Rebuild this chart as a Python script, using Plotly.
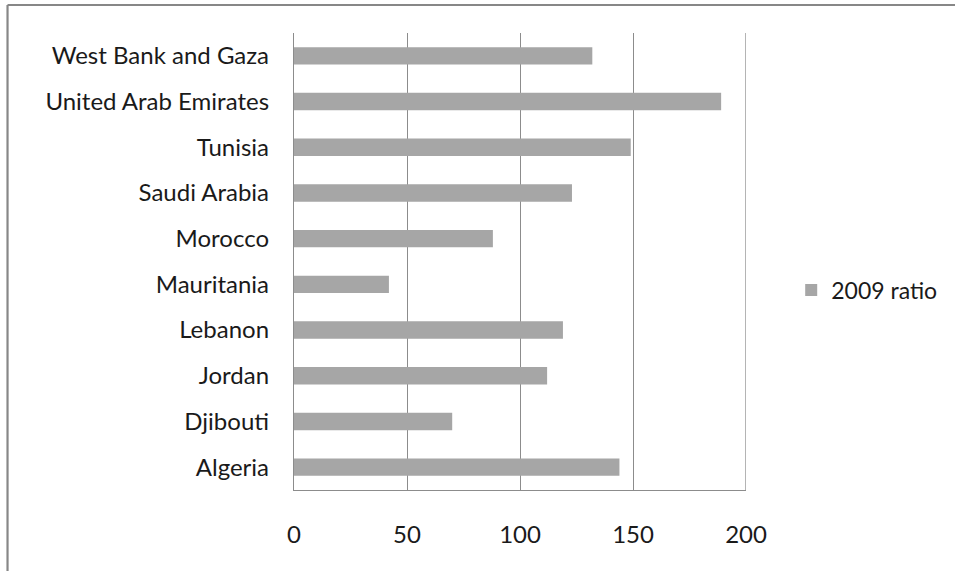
import plotly.graph_objects as go

# 2009 ratio by country
countries = ["Algeria", "Djibouti", "Jordan", "Lebanon", "Mauritania",
             "Morocco", "Saudi Arabia", "Tunisia", "United Arab Emirates",
             "West Bank and Gaza"]
ratio_2009 = [144, 70, 112, 119, 42, 88, 123, 149, 189, 132]
x_ticks = [0, 50, 100, 150, 200]

FONT = "Lato, Calibri, Carlito, sans-serif"
GRID = "#8c8c8c"
TEXT = "#1a1a1a"

fig = go.Figure()
fig.add_trace(go.Bar(
    x=ratio_2009,
    y=countries,
    orientation="h",
    name="2009 ratio",
    width=0.38,
    marker=dict(color="#a6a6a6", line=dict(width=0)),
))

fig.update_layout(
    width=955,
    height=571,
    margin=dict(l=294, r=209, t=33, b=81),
    paper_bgcolor="white",
    plot_bgcolor="white",
    font=dict(family=FONT, size=24, color=TEXT),
    showlegend=True,
    legend=dict(
        x=1.1,
        xanchor="left",
        y=0.4376,
        yanchor="middle",
        font=dict(family=FONT, size=23, color=TEXT),
        bgcolor="rgba(0,0,0,0)",
    ),
)

fig.update_xaxes(
    range=[0, 200],
    tickvals=x_ticks,
    ticktext=[str(v) for v in x_ticks],
    showgrid=True,
    gridcolor=GRID,
    gridwidth=1.3,
    showline=True,
    linecolor=GRID,
    linewidth=1.3,
    zeroline=False,
    ticks="",
    ticklabelstandoff=23,
    fixedrange=True,
)
fig.update_yaxes(
    type="category",
    categoryorder="array",
    categoryarray=countries,
    showgrid=False,
    showline=True,
    linecolor=GRID,
    linewidth=1.3,
    zeroline=False,
    ticks="",
    ticklabelstandoff=19,
    fixedrange=True,
)

# gridline at the last tick, on the right edge of the plot area
fig.add_shape(type="line", xref="x", yref="paper",
              x0=x_ticks[-1], x1=x_ticks[-1], y0=0, y1=1,
              line=dict(color=GRID, width=1.3))

# outer chart frame (top and left edges)
frame = dict(type="line", xref="paper", yref="paper",
             line=dict(color="#878787", width=2.2))
fig.add_shape(x0=-0.6338, x1=1.6, y0=1.0613, y1=1.0613, **frame)
fig.add_shape(x0=-0.6338, x1=-0.6338, y0=1.0613, y1=-0.3, **frame)

fig.write_html("out.html")
